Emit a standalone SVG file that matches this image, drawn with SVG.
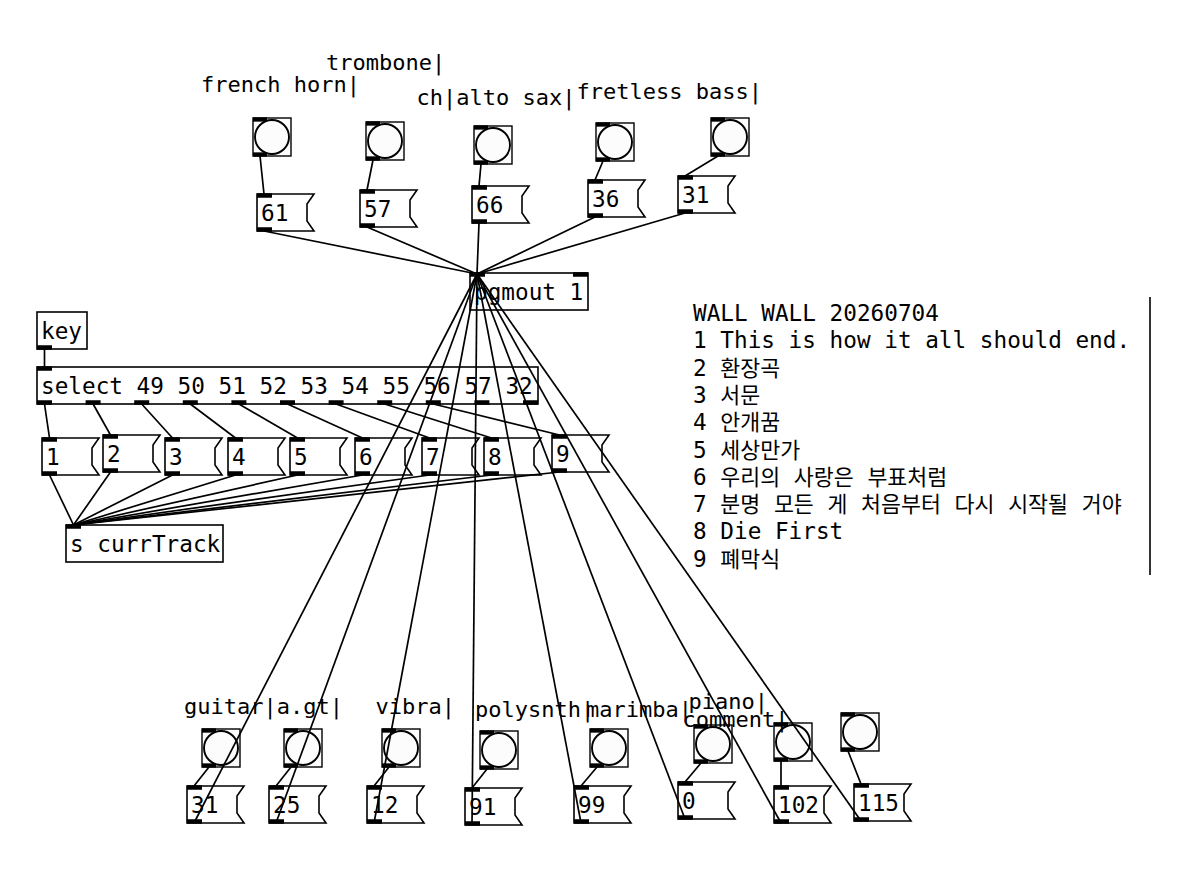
<svg xmlns="http://www.w3.org/2000/svg" xmlns:xlink="http://www.w3.org/1999/xlink" width="1200" height="893" viewBox="0 0 1200 893">
<style>
.t{font-family:"DejaVu Sans Mono","Liberation Mono",monospace;font-size:22.7px;fill:#000}
.l{font-family:"DejaVu Sans Mono","Liberation Mono",monospace;font-size:22px;fill:#000}
.k{font-family:"Noto Sans CJK KR",sans-serif;font-size:21.7px}
.box{fill:#fff;stroke:#000;stroke-width:1.6}
.io{fill:#000}
.bbox{fill:#fcfcfc;stroke:#000;stroke-width:1.4}
.bc{fill:#fcfcfc;stroke:#000;stroke-width:1.9}
#wires line{stroke:#000;stroke-width:1.7}
</style>
<defs>
<g id="msg">
<path class="box" d="M0,0 H57 L50,10 V27 L57,37 H0 Z"/>
<rect class="io" x="0" y="-0.75" width="15" height="4.5"/>
<rect class="io" x="0" y="33.25" width="15" height="4.5"/>
</g>
<g id="bng">
<rect class="bbox" x="0" y="0" width="38" height="38"/>
<circle class="bc" cx="19" cy="19" r="17"/>
<rect class="io" x="0" y="-0.65" width="14" height="4.3"/>
<rect class="io" x="0" y="34.35" width="14" height="4.3"/>
</g>
</defs>

<!-- top bangs -->
<g id="bang-frenchhorn"><use xlink:href="#bng" x="253" y="118"/><text class="l" x="201" y="91.7">french horn|</text></g>
<g id="bang-trombone"><use xlink:href="#bng" x="366" y="122"/><text class="l" x="326" y="70">trombone|</text></g>
<g id="bang-altosax"><use xlink:href="#bng" x="474" y="126"/><text class="l" x="416.5" y="105">ch|alto sax|</text></g>
<g id="bang-fretless"><use xlink:href="#bng" x="596" y="123"/><text class="l" x="576.5" y="98.5">fretless bass|</text></g>
<g id="bang-top5"><use xlink:href="#bng" x="711" y="118"/></g>

<!-- top messages -->
<g id="msg-61"><use xlink:href="#msg" x="257" y="194"/><text class="t" x="261" y="220.5">61</text></g>
<g id="msg-57"><use xlink:href="#msg" x="360" y="190"/><text class="t" x="364" y="216.5">57</text></g>
<g id="msg-66"><use xlink:href="#msg" x="472" y="186"/><text class="t" x="476" y="212.5">66</text></g>
<g id="msg-36"><use xlink:href="#msg" x="588" y="180"/><text class="t" x="592" y="206.5">36</text></g>
<g id="msg-31t"><use xlink:href="#msg" x="678" y="176"/><text class="t" x="682" y="202.5">31</text></g>

<!-- pgmout -->
<g id="pgmout">
<rect class="box" x="470" y="273" width="118" height="37"/>
<rect class="io" x="470" y="272.25" width="15" height="4.5"/>
<rect class="io" x="573" y="272.25" width="15" height="4.5"/>
<text class="t" x="474" y="299.5">pgmout 1</text>
</g>

<!-- key / select -->
<g id="key">
<rect class="box" x="37" y="312" width="50" height="37"/>
<rect class="io" x="37" y="345.25" width="15" height="4.5"/>
<text class="t" x="41" y="338.5">key</text>
</g>
<g id="select">
<rect class="box" x="37" y="367" width="501" height="37"/>
<rect class="io" x="37" y="366.25" width="15" height="4.5"/>
<rect class="io" x="37" y="400.25" width="15" height="4.5"/>
<rect class="io" x="85.6" y="400.25" width="15" height="4.5"/>
<rect class="io" x="134.2" y="400.25" width="15" height="4.5"/>
<rect class="io" x="182.8" y="400.25" width="15" height="4.5"/>
<rect class="io" x="231.4" y="400.25" width="15" height="4.5"/>
<rect class="io" x="280" y="400.25" width="15" height="4.5"/>
<rect class="io" x="328.6" y="400.25" width="15" height="4.5"/>
<rect class="io" x="377.2" y="400.25" width="15" height="4.5"/>
<rect class="io" x="425.8" y="400.25" width="15" height="4.5"/>
<rect class="io" x="474.4" y="400.25" width="15" height="4.5"/>
<rect class="io" x="523" y="400.25" width="15" height="4.5"/>
<text class="t" x="41" y="393.5">select 49 50 51 52 53 54 55 56 57 32</text>
</g>

<!-- track messages -->
<g id="msg-1"><use xlink:href="#msg" x="42" y="438"/><text class="t" x="46" y="464.5">1</text></g>
<g id="msg-2"><use xlink:href="#msg" x="103" y="435"/><text class="t" x="107" y="461.5">2</text></g>
<g id="msg-3"><use xlink:href="#msg" x="165" y="438"/><text class="t" x="169" y="464.5">3</text></g>
<g id="msg-4"><use xlink:href="#msg" x="228" y="438"/><text class="t" x="232" y="464.5">4</text></g>
<g id="msg-5"><use xlink:href="#msg" x="290" y="438"/><text class="t" x="294" y="464.5">5</text></g>
<g id="msg-6"><use xlink:href="#msg" x="355" y="438"/><text class="t" x="359" y="464.5">6</text></g>
<g id="msg-7"><use xlink:href="#msg" x="422" y="438"/><text class="t" x="426" y="464.5">7</text></g>
<g id="msg-8"><use xlink:href="#msg" x="484" y="438"/><text class="t" x="488" y="464.5">8</text></g>
<g id="msg-9"><use xlink:href="#msg" x="552" y="435"/><text class="t" x="556" y="461.5">9</text></g>

<g id="send-currTrack">
<rect class="box" x="66" y="525" width="157" height="37"/>
<rect class="io" x="66" y="524.25" width="15" height="4.5"/>
<text class="t" x="70" y="551.5">s currTrack</text>
</g>

<!-- comment -->
<g id="comment">
<text class="t"><tspan x="693" y="321">WALL WALL 20260704</tspan><tspan x="693" y="348.3">1 This is how it all should end.</tspan><tspan x="693" y="375.6">2 </tspan><tspan class="k">환장곡</tspan><tspan x="693" y="402.9">3 </tspan><tspan class="k">서문</tspan><tspan x="693" y="430.2">4 </tspan><tspan class="k">안개꿈</tspan><tspan x="693" y="457.5">5 </tspan><tspan class="k">세상만가</tspan><tspan x="693" y="484.8">6 </tspan><tspan class="k">우리의</tspan> <tspan class="k">사랑은</tspan> <tspan class="k">부표처럼</tspan><tspan x="693" y="512.1">7 </tspan><tspan class="k">분명</tspan> <tspan class="k">모든</tspan> <tspan class="k">게</tspan> <tspan class="k">처음부터</tspan> <tspan class="k">다시</tspan> <tspan class="k">시작될</tspan> <tspan class="k">거야</tspan><tspan x="693" y="539.4">8 Die First</tspan><tspan x="693" y="566.7">9 </tspan><tspan class="k">폐막식</tspan></text>
<line x1="1150" y1="297" x2="1150" y2="575" stroke="#000" stroke-width="1.6"/>
</g>

<!-- bottom bangs -->
<g id="bang-guitar"><use xlink:href="#bng" x="202" y="729"/><text class="l" x="184" y="714.3">guitar|</text></g>
<g id="bang-agt"><use xlink:href="#bng" x="284" y="729"/><text class="l" x="276.7" y="714.3">a.gt|</text></g>
<g id="bang-vibra"><use xlink:href="#bng" x="382" y="729"/><text class="l" x="375.5" y="714.3">vibra|</text></g>
<g id="bang-polysnth"><use xlink:href="#bng" x="480" y="731"/><text class="l" x="475" y="717">polysnth|</text></g>
<g id="bang-marimba"><use xlink:href="#bng" x="590" y="729"/><text class="l" x="586" y="716.5">marimba|</text></g>
<g id="bang-piano"><use xlink:href="#bng" x="694" y="725"/><text class="l" x="688.5" y="708.5">piano|</text></g>
<g id="bang-comment"><use xlink:href="#bng" x="774" y="723"/><text class="l" x="682.5" y="727">comment|</text></g>
<g id="bang-b8"><use xlink:href="#bng" x="841" y="713"/></g>

<!-- bottom messages -->
<g id="msg-31"><use xlink:href="#msg" x="187" y="786"/><text class="t" x="191" y="812.5">31</text></g>
<g id="msg-25"><use xlink:href="#msg" x="269" y="786"/><text class="t" x="273" y="812.5">25</text></g>
<g id="msg-12"><use xlink:href="#msg" x="367" y="786"/><text class="t" x="371" y="812.5">12</text></g>
<g id="msg-91"><use xlink:href="#msg" x="465" y="788"/><text class="t" x="469" y="814.5">91</text></g>
<g id="msg-99"><use xlink:href="#msg" x="574" y="786"/><text class="t" x="578" y="812.5">99</text></g>
<g id="msg-0"><use xlink:href="#msg" x="678" y="782"/><text class="t" x="682" y="808.5">0</text></g>
<g id="msg-102"><use xlink:href="#msg" x="774" y="786"/><text class="t" x="778" y="812.5">102</text></g>
<g id="msg-115"><use xlink:href="#msg" x="854" y="784"/><text class="t" x="858" y="810.5">115</text></g>

<g id="wires">
<line x1="260" y1="156" x2="264" y2="194"/>
<line x1="373" y1="160" x2="367" y2="190"/>
<line x1="481" y1="164" x2="479" y2="186"/>
<line x1="603" y1="161" x2="595" y2="180"/>
<line x1="718" y1="156" x2="685" y2="176"/>
<line x1="264" y1="231" x2="477" y2="274"/>
<line x1="367" y1="227" x2="477" y2="274"/>
<line x1="479" y1="223" x2="477" y2="274"/>
<line x1="595" y1="217" x2="477" y2="274"/>
<line x1="685" y1="213" x2="477" y2="274"/>
<line x1="44.5" y1="349" x2="44.5" y2="367"/>
<line x1="44.5" y1="404" x2="49.5" y2="438"/>
<line x1="93.1" y1="404" x2="110.5" y2="435"/>
<line x1="141.7" y1="404" x2="172.5" y2="438"/>
<line x1="190.3" y1="404" x2="235.5" y2="438"/>
<line x1="238.9" y1="404" x2="297.5" y2="438"/>
<line x1="287.5" y1="404" x2="362.5" y2="438"/>
<line x1="336.1" y1="404" x2="429.5" y2="438"/>
<line x1="384.7" y1="404" x2="491.5" y2="438"/>
<line x1="433.3" y1="404" x2="559.5" y2="435"/>
<line x1="49.5" y1="475" x2="73.5" y2="525"/>
<line x1="110.5" y1="472" x2="73.5" y2="525"/>
<line x1="172.5" y1="475" x2="73.5" y2="525"/>
<line x1="235.5" y1="475" x2="73.5" y2="525"/>
<line x1="297.5" y1="475" x2="73.5" y2="525"/>
<line x1="362.5" y1="475" x2="73.5" y2="525"/>
<line x1="429.5" y1="475" x2="73.5" y2="525"/>
<line x1="491.5" y1="475" x2="73.5" y2="525"/>
<line x1="559.5" y1="472" x2="73.5" y2="525"/>
<line x1="209" y1="767" x2="194" y2="786"/>
<line x1="291" y1="767" x2="276" y2="786"/>
<line x1="389" y1="767" x2="374" y2="786"/>
<line x1="487" y1="769" x2="472" y2="788"/>
<line x1="597" y1="767" x2="581" y2="786"/>
<line x1="701" y1="763" x2="685" y2="782"/>
<line x1="781" y1="761" x2="781" y2="786"/>
<line x1="848" y1="751" x2="861" y2="784"/>
<line x1="194" y1="823" x2="477" y2="274"/>
<line x1="276" y1="823" x2="477" y2="274"/>
<line x1="374" y1="823" x2="477" y2="274"/>
<line x1="472" y1="825" x2="477" y2="274"/>
<line x1="581" y1="823" x2="477" y2="274"/>
<line x1="685" y1="819" x2="477" y2="274"/>
<line x1="781" y1="823" x2="477" y2="274"/>
<line x1="861" y1="821" x2="477" y2="274"/>
</g>
</svg>
